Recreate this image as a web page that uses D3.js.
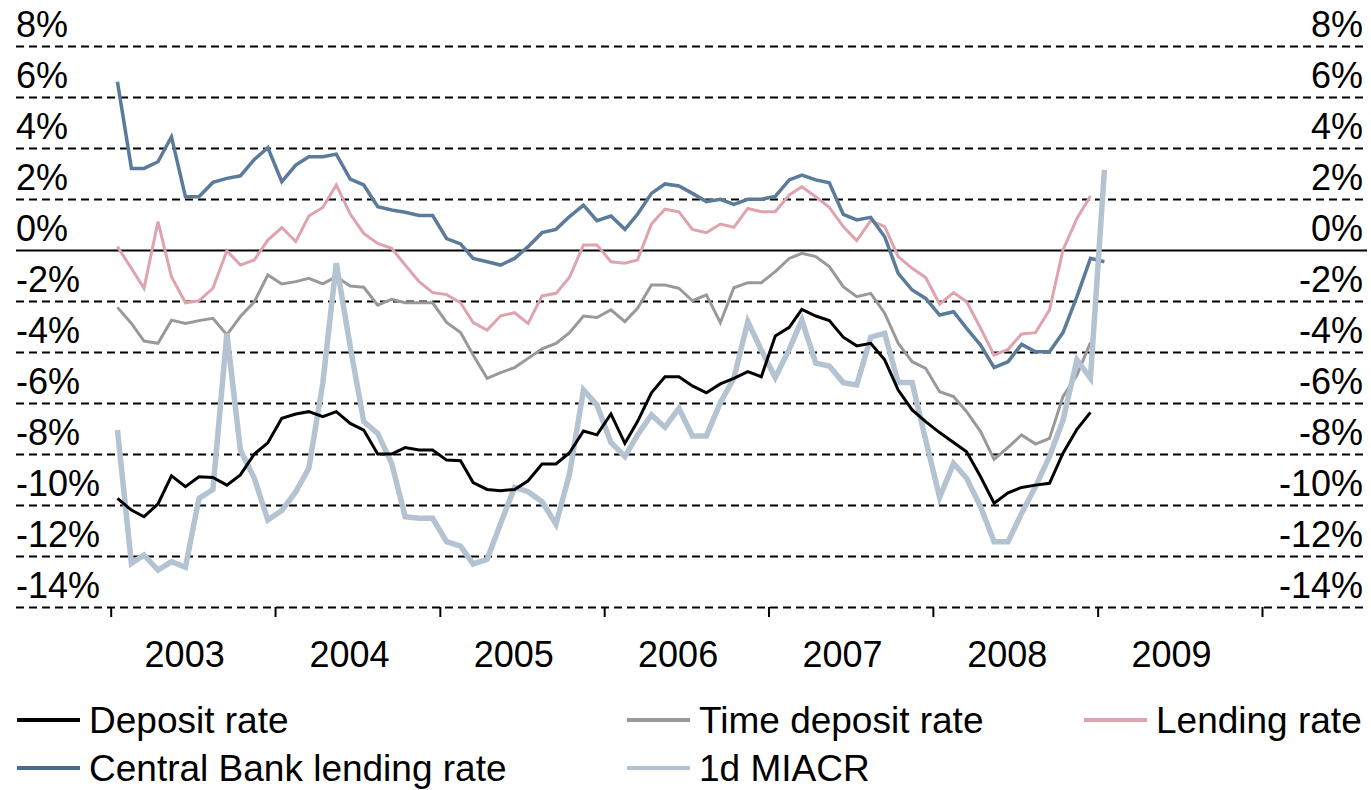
<!DOCTYPE html>
<html lang="en">
<head>
    <meta charset="utf-8">
    <title>Interest rates</title>
    <script type="text/javascript" src="https://d3js.org/d3.v7.min.js"></script>
    <style type="text/css">
        body { margin: 0; background: #fff; }
        svg { font-family: "Liberation Sans", Arial, sans-serif; }
    </style>
</head>
<body>
<script type="text/javascript">

    // monthly series, Jan 2003 onwards
    var startYear = 2003;
    var years = ["2003", "2004", "2005", "2006", "2007", "2008", "2009"];
    var yTicks = [8, 6, 4, 2, 0, -2, -4, -6, -8, -10, -12, -14];

    var depositRate = [
        -9.74, -10.2, -10.46, -9.96, -8.86, -9.28, -8.89, -8.92, -9.22, -8.82, -8.0, -7.56,
        -6.6, -6.43, -6.34, -6.54, -6.34, -6.8, -7.06, -8.0, -8.0, -7.75, -7.84, -7.84,
        -8.24, -8.26, -9.12, -9.39, -9.44, -9.39, -9.05, -8.39, -8.39, -7.95, -7.1, -7.25,
        -6.43, -7.58, -6.73, -5.6, -4.97, -4.97, -5.33, -5.6, -5.25, -5.03, -4.77, -4.97,
        -3.37, -3.03, -2.33, -2.59, -2.77, -3.42, -3.76, -3.66, -4.31, -5.49, -6.27, -6.73,
        -7.16, -7.55, -7.91, -8.89, -9.93, -9.52, -9.31, -9.22, -9.15, -7.97, -7.03, -6.37
    ];
    var timeDepositRate = [
        -2.25, -2.88, -3.57, -3.66, -2.75, -2.88, -2.77, -2.68, -3.33, -2.61, -2.03, -0.98,
        -1.33, -1.24, -1.11, -1.33, -1.05, -1.41, -1.46, -2.16, -1.93, -2.07, -2.07, -2.07,
        -2.84, -3.24, -4.12, -5.03, -4.81, -4.61, -4.25, -3.88, -3.66, -3.24, -2.59, -2.65,
        -2.35, -2.81, -2.29, -1.37, -1.37, -1.5, -1.99, -1.76, -2.85, -1.48, -1.28, -1.28,
        -0.85, -0.33, -0.13, -0.26, -0.65, -1.44, -1.83, -1.7, -2.48, -3.66, -4.38, -4.64,
        -5.56, -5.75, -6.34, -7.12, -8.21, -7.74, -7.25, -7.61, -7.39, -5.75, -4.9, -3.63
    ];
    var lendingRate = [
        0.13, -0.72, -1.5, 1.11, -1.05, -2.07, -1.99, -1.5, -0.03, -0.59, -0.39, 0.39,
        0.88, 0.33, 1.33, 1.67, 2.55, 1.41, 0.65, 0.26, 0.07, -0.59, -1.24, -1.67,
        -1.75, -2.07, -2.85, -3.14, -2.58, -2.46, -2.88, -1.8, -1.7, -1.07, 0.2, 0.2,
        -0.46, -0.52, -0.39, 1.02, 1.6, 1.5, 0.81, 0.68, 1.02, 0.89, 1.63, 1.5,
        1.5, 2.16, 2.48, 2.09, 1.67, 0.92, 0.37, 1.15, 0.92, -0.26, -0.72, -1.08,
        -2.12, -1.67, -2.03, -3.07, -4.12, -3.9, -3.29, -3.24, -2.35, 0.0, 1.24, 2.12
    ];
    var cbLendingRate = [
        6.6, 3.2, 3.2, 3.46, 4.44, 2.09, 2.09, 2.65, 2.81, 2.91, 3.55, 4.01,
        2.68, 3.33, 3.66, 3.66, 3.76, 2.78, 2.55, 1.7, 1.57, 1.48, 1.35, 1.35,
        0.45, 0.24, -0.33, -0.46, -0.59, -0.33, 0.13, 0.68, 0.81, 1.31, 1.76, 1.15,
        1.33, 0.81, 1.4, 2.22, 2.59, 2.51, 2.22, 1.9, 1.99, 1.79, 1.99, 1.99,
        2.1, 2.75, 2.94, 2.75, 2.64, 1.4, 1.18, 1.28, 0.52, -0.92, -1.57, -1.9,
        -2.55, -2.42, -3.07, -3.73, -4.61, -4.38, -3.7, -3.99, -3.99, -3.24, -1.83, -0.33,
        -0.46
    ];
    var miacr = [
        -7.06, -12.29, -11.96, -12.55, -12.22, -12.44, -9.74, -9.39, -3.27, -7.84, -8.95, -10.59,
        -10.22, -9.48, -8.56, -5.23, -0.52, -3.79, -6.73, -7.19, -8.37, -10.46, -10.52, -10.52,
        -11.44, -11.61, -12.31, -12.13, -10.72, -9.31, -9.48, -9.87, -10.75, -8.78, -5.49, -6.08,
        -7.55, -8.1, -7.25, -6.47, -6.95, -6.21, -7.29, -7.29, -5.99, -5.03, -2.81, -3.92,
        -5.0, -3.9, -2.75, -4.44, -4.55, -5.2, -5.29, -3.42, -3.27, -5.2, -5.2, -7.45,
        -9.7, -8.37, -8.95, -10.07, -11.44, -11.44, -10.33, -9.28, -8.1, -6.67, -4.31, -5.03,
        3.14
    ];

    var series = [
        { name: "Lending rate", values: lendingRate, color: "#dfa3ad", width: 3 },
        { name: "Time deposit rate", values: timeDepositRate, color: "#999999", width: 3 },
        { name: "Central Bank lending rate", values: cbLendingRate, color: "#5b7b9a", width: 3.5 },
        { name: "1d MIACR", values: miacr, color: "#b3c3d1", width: 5.5 },
        { name: "Deposit rate", values: depositRate, color: "#000000", width: 3 }
    ];

    var legendItems = [
        { name: "Deposit rate", color: "#000000", col: 0, row: 0 },
        { name: "Time deposit rate", color: "#999999", col: 1, row: 0 },
        { name: "Lending rate", color: "#dfa3ad", col: 2, row: 0 },
        { name: "Central Bank lending rate", color: "#4a6a8c", col: 0, row: 1 },
        { name: "1d MIACR", color: "#b3c3d1", col: 1, row: 1 }
    ];

    var width = 1371, height = 790;
    var gridLeft = 16, gridRight = 1367;
    var fontSize = 36;
    var legendFont = 37;

    var svg = d3.select("body")
        .append("svg")
        .attr("width", width)
        .attr("height", height);

    var x = d3.scaleTime()
        .domain([new Date(startYear, 0, 1), new Date(startYear + 7, 0, 1)])
        .range([110.7, 1262]);

    var y = d3.scaleLinear()
        .domain([-14, 8])
        .range([607, 46]);

    function monthDate(i) {
        return new Date(startYear, i, 16);
    }

    // gridlines + left labels
    var gridAxis = d3.axisLeft(y)
        .tickValues(yTicks)
        .tickSize(-(gridRight - gridLeft))
        .tickFormat(function(d) { return d + "%"; });

    var gGrid = svg.append("g")
        .attr("transform", "translate(" + gridLeft + ",0)")
        .call(gridAxis);
    gGrid.select(".domain").remove();
    gGrid.selectAll("line")
        .attr("stroke", "#000")
        .attr("stroke-width", 2)
        .attr("stroke-dasharray", function(d) { return d === 0 ? null : "8,5"; });
    gGrid.selectAll("text")
        .attr("x", 0)
        .attr("dy", -10)
        .attr("text-anchor", "start")
        .attr("fill", "#000")
        .style("font-size", fontSize + "px");

    // right labels
    var rightAxis = d3.axisRight(y)
        .tickValues(yTicks)
        .tickSize(0)
        .tickFormat(function(d) { return d + "%"; });
    var gRight = svg.append("g")
        .attr("transform", "translate(" + (gridRight - 4) + ",0)")
        .call(rightAxis);
    gRight.select(".domain").remove();
    gRight.selectAll("text")
        .attr("x", 0)
        .attr("dy", -10)
        .attr("text-anchor", "end")
        .attr("fill", "#000")
        .style("font-size", fontSize + "px");

    // x axis: year ticks, labels near the middle of each year
    var xAxis = d3.axisBottom(x)
        .ticks(d3.timeYear.every(1))
        .tickSize(10)
        .tickFormat("");
    var gX = svg.append("g")
        .attr("transform", "translate(0," + y(-14) + ")")
        .call(xAxis);
    gX.select(".domain").remove();
    gX.selectAll("line").attr("stroke", "#000").attr("stroke-width", 2);

    svg.append("g")
        .selectAll("text")
        .data(years)
        .enter()
        .append("text")
        .attr("x", function(d) { return x(new Date(+d, 6, 2)) - 8; })
        .attr("y", 667)
        .attr("text-anchor", "middle")
        .style("font-size", fontSize + "px")
        .text(function(d) { return d; });

    // series
    var line = d3.line()
        .x(function(d, i) { return x(monthDate(i)); })
        .y(function(d) { return y(d); });

    svg.append("g")
        .selectAll("path")
        .data(series)
        .enter()
        .append("path")
        .attr("fill", "none")
        .attr("stroke", function(d) { return d.color; })
        .attr("stroke-width", function(d) { return d.width; })
        .attr("d", function(d) { return line(d.values); });

    // legend
    var colX = [17, 627, 1084];
    var rowY = [720, 768];
    var leg = svg.append("g")
        .selectAll("g")
        .data(legendItems)
        .enter()
        .append("g")
        .attr("transform", function(d) {
            return "translate(" + colX[d.col] + "," + rowY[d.row] + ")";
        });
    leg.append("line")
        .attr("x1", 0).attr("x2", 63)
        .attr("stroke", function(d) { return d.color; })
        .attr("stroke-width", 4);
    leg.append("text")
        .attr("x", 72)
        .attr("dy", "0.35em")
        .style("font-size", legendFont + "px")
        .text(function(d) { return d.name; });

</script>
</body>
</html>
